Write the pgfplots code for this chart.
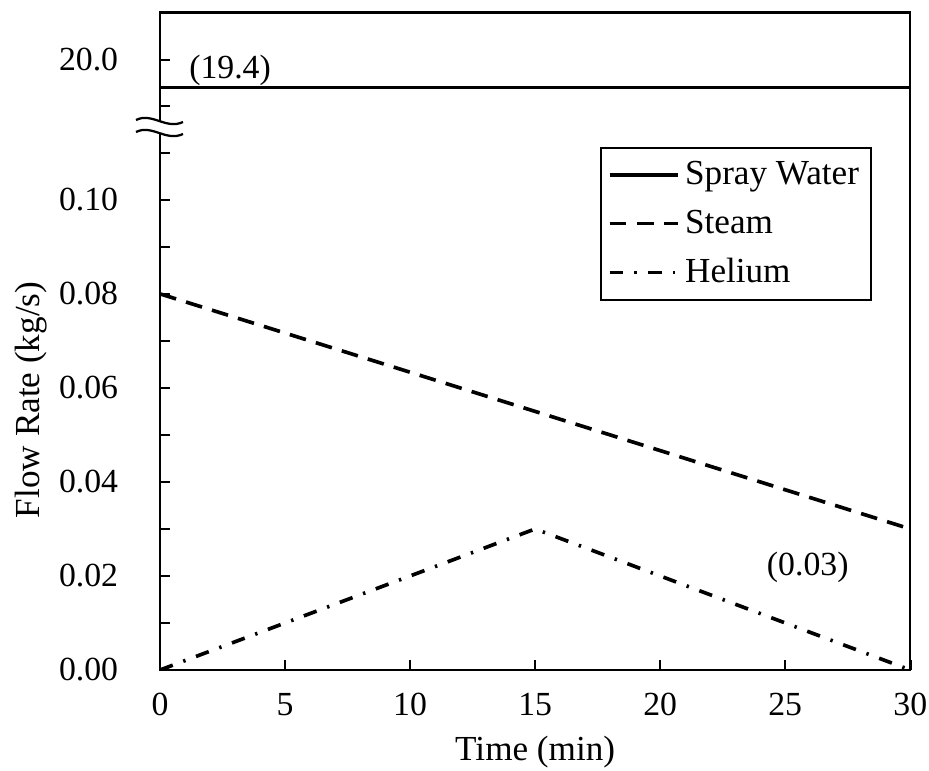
\documentclass[border=0pt]{standalone}
\usepackage{fontspec}
\setmainfont{Liberation Serif}
\usepackage{pgfplots}
\pgfplotsset{compat=1.18}
\begin{document}
\begin{tikzpicture}[x=0.0125cm,y=0.0125cm]
\pgfplotsset{
  brk/.style={
    scale only axis, width=9.375cm, xmin=0, xmax=30,
    axis line style={draw=none},
    tick align=inside, xtick pos=left, ytick pos=left,
    major tick length=0.12cm, minor tick length=0.12cm,
    every tick/.style={black, line width=0.9pt},
    every minor tick/.style={black, line width=0.9pt},
    tick label style={font=\fontsize{12}{14}\selectfont},
    label style={font=\fontsize{12.5}{15}\selectfont},
    /pgf/number format/assume math mode=true,
    scaled y ticks=false,
  }
}
% lower part: 0 .. 0.115
\begin{axis}[brk, at={(2cm,1.25cm)}, anchor=south west, height=6.75cm,
  ymin=0, ymax=0.1149,
  xtick={0,5,10,15,20,25,30},
  ytick={0,0.02,0.04,0.06,0.08,0.10},
  minor ytick={0.01,0.03,0.05,0.07,0.09,0.11},
  yticklabel style={/pgf/number format/.cd, fixed, fixed zerofill, precision=2, /tikz/.cd, xshift=-0.4cm},
  xticklabel style={yshift=-0.17cm},
  xlabel={Time (min)},
  ylabel={Flow Rate (kg/s)},
  xlabel style={at={(axis description cs:0.5,-0.152)}, anchor=center},
  ylabel style={at={(axis description cs:-0.172,0.5)}, anchor=center},
  legend image code/.code={\draw[#1] (0cm,0cm) -- (0.85cm,0cm);},
  legend style={at={(0.949,0.9685)}, anchor=north east, draw=black, line width=0.7pt,
    font=\fontsize{12.5}{15}\selectfont, row sep=0.12cm,
    inner xsep=0.08cm, inner ysep=0.1cm},
  legend cell align=left,
]
\addlegendimage{black, line width=1.3pt}
\addlegendentry{Spray Water}
\addplot[black, line width=1.3pt, dash pattern=on 0.21cm off 0.13cm]
  coordinates {(0,0.08) (30,0.03)};
\addlegendentry{Steam}
\addplot[black, line width=1.3pt, dash pattern=on 0.17cm off 0.14cm on 0.03cm off 0.14cm]
  coordinates {(0,0) (15,0.03) (30,0)};
\addlegendentry{Helium}
\node[font=\fontsize{12}{14}\selectfont] at (axis cs:25.9,0.0219) {(0.03)};
\end{axis}
% upper part: 18.5 .. 21
\begin{axis}[brk, at={(2cm,8cm)}, anchor=south west, height=1.466cm,
  ymin=18.48, ymax=21.03,
  xtick=\empty,
  ytick={20}, minor ytick={19},
  yticklabel style={/pgf/number format/.cd, fixed, fixed zerofill, precision=1, /tikz/.cd, xshift=-0.4cm},
]
\addplot[black, line width=1.3pt] coordinates {(0,19.4) (30,19.4)};
\node[font=\fontsize{12}{14}\selectfont] at (axis cs:2.8,19.78) {(19.4)};
\end{axis}
% frame
\draw[line width=0.9pt] (160,100) rectangle (910,757.3);
% axis break mark
\fill[white] (150,637) rectangle (175,648);
\draw[line width=0.8pt] (136,650) .. controls (152,658) and (166,640) .. (183,648);
\draw[line width=0.8pt] (136,638) .. controls (152,646) and (166,628) .. (183,636);
\pgfresetboundingbox
\useasboundingbox (0,0) rectangle (929,770);
\end{tikzpicture}
\end{document}
